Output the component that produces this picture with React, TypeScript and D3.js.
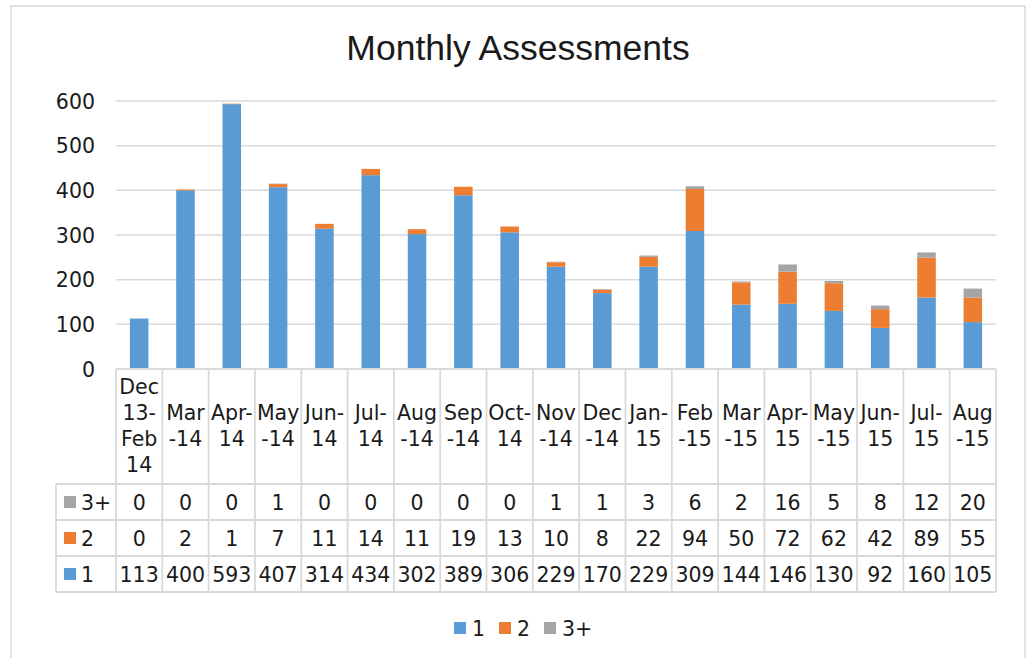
import React from "react";
import * as d3 from "d3";

// category labels, already wrapped the way Excel breaks them in the data table
const categories = [
  ["Dec", "13-", "Feb", "14"], ["Mar", "-14"], ["Apr-", "14"], ["May", "-14"],
  ["Jun-", "14"], ["Jul-", "14"], ["Aug", "-14"], ["Sep", "-14"], ["Oct-", "14"],
  ["Nov", "-14"], ["Dec", "-14"], ["Jan-", "15"], ["Feb", "-15"], ["Mar", "-15"],
  ["Apr-", "15"], ["May", "-15"], ["Jun-", "15"], ["Jul-", "15"], ["Aug", "-15"],
];
const series1 = [113, 400, 593, 407, 314, 434, 302, 389, 306, 229, 170, 229, 309, 144, 146, 130, 92, 160, 105];
const series2 = [0, 2, 1, 7, 11, 14, 11, 19, 13, 10, 8, 22, 94, 50, 72, 62, 42, 89, 55];
const series3 = [0, 0, 0, 1, 0, 0, 0, 0, 0, 1, 1, 3, 6, 2, 16, 5, 8, 12, 20];
const seriesNames = ["1", "2", "3+"];
const colors = ["#5b9bd5", "#ed7d31", "#a5a5a5"];
const yTicks = [0, 100, 200, 300, 400, 500, 600];

const W = 1029, H = 658;
const plotLeft = 116, plotRight = 996, plotTop = 101, plotBottom = 369;
const keyLeft = 56;
const headerBottom = 484, rowH = 36;
const grid = "#d9d9d9";
const numFont = "DejaVu Sans";
const fs = 20.5;

export default function App() {
  const keys = categories.map((c, i) => i);
  const x = d3.scaleBand<number>().domain(keys).range([plotLeft, plotRight]).paddingInner(0.6).paddingOuter(0.3);
  const y = d3.scaleLinear().domain([0, 600]).range([plotBottom, plotTop]);
  const step = x.step();
  const colX = (i: number) => plotLeft + i * step;

  const rows = keys.map((i) => ({ s1: series1[i], s2: series2[i], s3: series3[i] }));
  const stacked = d3.stack<any>().keys(["s1", "s2", "s3"])(rows);

  // table rows from top: 3+, 2, 1
  const tableRows = [
    { name: seriesNames[2], color: colors[2], values: series3 },
    { name: seriesNames[1], color: colors[1], values: series2 },
    { name: seriesNames[0], color: colors[0], values: series1 },
  ];
  const tableBottom = headerBottom + rowH * tableRows.length;

  const legendItems = [
    { name: seriesNames[0], color: colors[0], x: 454 },
    { name: seriesNames[1], color: colors[1], x: 499 },
    { name: seriesNames[2], color: colors[2], x: 544 },
  ];

  return (
    <div style={{ position: "absolute", left: 0, top: 0 }}>
      <svg width={W} height={H} style={{ display: "block", background: "#fff" }}>
        <rect x={11} y={6} width={1014} height={670} fill="#fff" stroke={grid} strokeWidth={1.5} />
        <text x={518} y={60} textAnchor="middle" fontFamily="Liberation Sans" fontSize={35.5} fill="#1a1a1a">
          Monthly Assessments
        </text>

        {/* gridlines + y axis labels */}
        {yTicks.map((t) => (
          <g key={t}>
            {t > 0 && <line x1={plotLeft} x2={plotRight} y1={y(t)} y2={y(t)} stroke={grid} strokeWidth={1.5} />}
            <text x={95} y={y(t) + 7.5} textAnchor="end" fontFamily={numFont} fontSize={fs} fill="#1a1a1a">{t}</text>
          </g>
        ))}

        {/* stacked bars */}
        {stacked.map((layer, si) => (
          <g key={si} fill={colors[si]}>
            {layer.map((d, i) => (
              <rect key={i} x={x(i)} width={x.bandwidth()} y={y(d[1])} height={Math.max(0, y(d[0]) - y(d[1]))} />
            ))}
          </g>
        ))}

        {/* data table lines */}
        <g stroke={grid} strokeWidth={1.8}>
          <line x1={plotLeft} x2={plotRight} y1={plotBottom} y2={plotBottom} />
          {[0, 1, 2, 3].map((r) => (
            <line key={r} x1={keyLeft} x2={plotRight} y1={headerBottom + r * rowH} y2={headerBottom + r * rowH} />
          ))}
          <line x1={keyLeft} x2={keyLeft} y1={headerBottom} y2={tableBottom} />
          {d3.range(categories.length + 1).map((i) => (
            <line key={i} x1={colX(i)} x2={colX(i)} y1={plotBottom} y2={tableBottom} />
          ))}
        </g>

        {/* header labels */}
        {categories.map((lines, i) => {
          const cx = colX(i) + step / 2;
          const mid = (plotBottom + headerBottom) / 2;
          const lh = 26;
          const first = mid - (lines.length * lh) / 2 + 19;
          return (
            <text key={i} textAnchor="middle" fontFamily={numFont} fontSize={fs} fill="#1a1a1a">
              {lines.map((l, k) => (
                <tspan key={k} x={cx} y={first + k * lh}>{l}</tspan>
              ))}
            </text>
          );
        })}

        {/* table values */}
        {tableRows.map((row, r) => {
          const cy = headerBottom + r * rowH + rowH / 2;
          return (
            <g key={row.name}>
              <rect x={64} y={cy - 6} width={12} height={12} fill={row.color} />
              <text x={81} y={cy + 7.5} fontFamily={numFont} fontSize={fs} fill="#1a1a1a">{row.name}</text>
              {row.values.map((v, i) => (
                <text key={i} x={colX(i) + step / 2} y={cy + 7.5} textAnchor="middle" fontFamily={numFont} fontSize={fs} fill="#1a1a1a">
                  {v}
                </text>
              ))}
            </g>
          );
        })}

        {/* legend */}
        {legendItems.map((it) => (
          <g key={it.name}>
            <rect x={it.x} y={622} width={12} height={12} fill={it.color} />
            <text x={it.x + 18} y={635.5} fontFamily={numFont} fontSize={fs} fill="#1a1a1a">{it.name}</text>
          </g>
        ))}
      </svg>
    </div>
  );
}
